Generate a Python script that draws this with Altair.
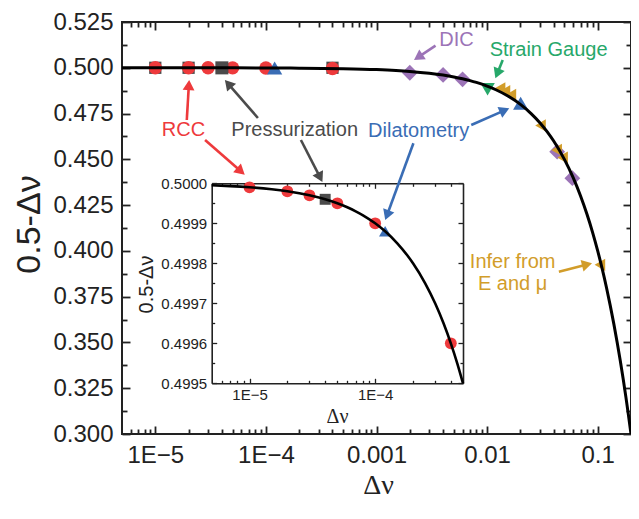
import math
import altair as alt
import pandas as pd

# ---------------- data ----------------
rcc_dv = [1e-5, 2e-5, 3e-5, 5e-5, 1e-4, 4e-4]
rcc_y = [0.49999, 0.49998, 0.49997, 0.49995, 0.4999, 0.4996]
rcc_sq_dv = [1e-5, 2e-5, 4e-4]
rcc_sq_y = [0.5, 0.5, 0.5]
press_dv = [4e-5]
press_y = [0.49996]
dila_dv = [1.2e-4, 0.0201]
dila_y = [0.49988, 0.4806]
dic_dv = [0.002, 0.004, 0.006, 0.043, 0.059]
dic_y = [0.4973, 0.4961, 0.4937, 0.4542, 0.4397]
sg_dv = [0.0101]
sg_y = [0.4883]
inf_dv = [0.0131, 0.0145, 0.0164, 0.0304, 0.0425, 0.0481, 0.1047]
inf_y = [0.4888, 0.4872, 0.4852, 0.4685, 0.4551, 0.4510, 0.3924]

# model curve 0.5 - dv, sampled at these dv values
curve_dv = [5e-6, 1e-5, 2e-5, 5e-5, 1e-4, 2e-4, 5e-4, 1e-3, 1.5e-3, 2e-3, 3e-3,
            4e-3, 5e-3, 6e-3, 7e-3, 8e-3, 1e-2, 1.2e-2, 1.5e-2, 2e-2, 2.5e-2,
            3e-2, 3.5e-2, 4e-2, 5e-2, 6e-2, 7e-2, 8e-2, 9e-2, 0.1, 0.11, 0.12,
            0.13, 0.14, 0.15, 0.16, 0.17, 0.18, 0.19, 0.2]
inset_curve_dv = [5e-6, 7e-6, 1e-5, 1.5e-5, 2e-5, 3e-5, 4e-5, 5e-5, 6e-5, 7e-5,
                  8e-5, 1e-4, 1.2e-4, 1.5e-4, 1.8e-4, 2e-4, 2.5e-4, 3e-4,
                  3.5e-4, 4e-4, 4.5e-4, 5e-4]

# axes
x_major = [1e-5, 1e-4, 1e-3, 1e-2, 1e-1]
x_major_labels = ["1E\u22125", "1E\u22124", "0.001", "0.01", "0.1"]
y_major = [0.300, 0.325, 0.350, 0.375, 0.400, 0.425, 0.450, 0.475, 0.500, 0.525]
ix_major = [1e-5, 1e-4]
ix_major_labels = ["1E\u22125", "1E\u22124"]
iy_major = [0.4995, 0.4996, 0.4997, 0.4998, 0.4999, 0.5000]

X_DOM = [5e-6, 0.2]
Y_DOM = [0.3, 0.525]
IX_DOM = [5e-6, 5e-4]
IY_DOM = [0.4995, 0.5]

# annotations (data coordinates of main plot)
RED, GRAY, BLUE, PURPLE, GREEN, GOLD = "#EE3A3C", "#4B4B4B", "#3A6DB5", "#9C74B7", "#27A86A", "#D29D2A"
ann_text = ["RCC", "Pressurization", "DIC", "Strain Gauge", "Dilatometry", "Infer from", "E and \u03bc"]
ann_dv = [1.80e-5, 1.82e-4, 5.28e-3, 0.0360, 2.405e-3, 0.01701, 0.01701]
ann_y = [0.4660, 0.4660, 0.5152, 0.5097, 0.4655, 0.3939, 0.3819]
ann_color = [RED, GRAY, PURPLE, GREEN, BLUE, GOLD, GOLD]

arr_dv0 = [1.926e-5, 2.818e-5, 8.47e-5, 2.073e-4, 3.418e-3, 0.01384, 7.19e-3, 2.156e-3, 0.04457]
arr_y0 = [0.47148, 0.46056, 0.47257, 0.46056, 0.51206, 0.50425, 0.46875, 0.45876, 0.38864]
arr_dv1 = [2.024e-5, 6.437e-5, 4.258e-5, 3.244e-4, 2.183e-3, 0.01188, 0.01586, 1.1995e-3, 0.08885]
arr_y1 = [0.49333, 0.44164, 0.49333, 0.43762, 0.50425, 0.49425, 0.47787, 0.41687, 0.39322]
arr_color = [RED, RED, GRAY, GRAY, PURPLE, GREEN, BLUE, BLUE, GOLD]

# ---------------- layout ----------------
W, H = 509, 412
IX_RANGE = [89.7, 341.0]
IY_RANGE = [361.3, 161.3]
HEAD_SIZE = 140

# ---------------- helpers ----------------
def minor_log(lo, hi):
    out = []
    for e in range(-7, 1):
        for m in range(2, 10):
            v = m * 10 ** e
            if lo * 1.0001 < v < hi * 0.9999:
                out.append(v)
    return out


def minor_lin(majors):
    return [round((a + b) / 2, 6) for a, b in zip(majors[:-1], majors[1:])]


def label_expr(vals, labs):
    parts = [f"abs(log(datum.value)/LN10 - ({round(math.log10(v))})) < 0.01 ? '{l}'"
             for v, l in zip(vals, labs)]
    return " : ".join(parts) + " : ''"


mx = alt.Scale(type="log", domain=X_DOM, nice=False)
my = alt.Scale(domain=Y_DOM, nice=False, zero=False)
ix = alt.Scale(type="log", domain=IX_DOM, nice=False, range=IX_RANGE)
iy = alt.Scale(domain=IY_DOM, nice=False, zero=False, range=IY_RANGE)

curve_df = pd.DataFrame({"dv": curve_dv})
curve_df["y"] = 0.5 - curve_df["dv"]
icurve_df = pd.DataFrame({"dv": inset_curve_dv})
icurve_df["y"] = 0.5 - icurve_df["dv"]

TICKC = "#222222"


def holder(df, xs, ys, xaxis, yaxis):
    return alt.Chart(df).mark_point(opacity=0).encode(
        x=alt.X("dv:Q", scale=xs, axis=xaxis),
        y=alt.Y("y:Q", scale=ys, axis=yaxis),
    )


def pts(dv, y, shape, color, size, xs, ys, maxdv=None):
    df = pd.DataFrame({"dv": dv, "y": y})
    if maxdv is not None:
        df = df[df["dv"] <= maxdv]
    return alt.Chart(df).mark_point(shape=shape, filled=True, size=size, color=color,
                                    opacity=1, strokeWidth=0).encode(
        x=alt.X("dv:Q", scale=xs, axis=None),
        y=alt.Y("y:Q", scale=ys, axis=None),
    )


# ---------------- main axes ----------------
common = dict(domain=False, grid=False, tickColor=TICKC, tickWidth=1.8)
xb_major = alt.Axis(orient="bottom", offset=-8, tickSize=8, values=x_major,
                    labelExpr=label_expr(x_major, x_major_labels), labelFontSize=24,
                    labelPadding=9, labelFlush=False, labelOverlap=False,
                    labelFont="Liberation Sans", labelColor=TICKC,
                    title="\u0394\u03bd", titleFont="Liberation Serif", titleFontSize=28,
                    titleFontWeight="normal", titleColor=TICKC, titleX=256, titleY=67,
                    titleAlign="center", titleBaseline="alphabetic", **common)
yl_major = alt.Axis(orient="left", offset=-8, tickSize=8, values=y_major, format=".3f",
                    labelFontSize=24, labelPadding=9, labelOverlap=False,
                    labelFont="Liberation Sans", labelColor=TICKC,
                    title="0.5-\u0394\u03bd", titleFont="Liberation Sans", titleFontSize=34,
                    titleFontWeight="normal", titleColor=TICKC, titleAngle=270,
                    titleX=-101, titleY=202, titleAlign="center", titleBaseline="middle",
                    **common)
xb_minor = alt.Axis(orient="bottom", offset=-5, tickSize=5, values=minor_log(*X_DOM),
                    labels=False, title=None, **common)
yl_minor = alt.Axis(orient="left", offset=-5, tickSize=5, values=minor_lin(y_major),
                    labels=False, title=None, **common)
xt_major = alt.Axis(orient="top", offset=-8, tickSize=8, values=x_major, labels=False,
                    title=None, **common)
yr_major = alt.Axis(orient="right", offset=-8, tickSize=8, values=y_major, labels=False,
                    title=None, **common)
xt_minor = alt.Axis(orient="top", offset=-5, tickSize=5, values=minor_log(*X_DOM),
                    labels=False, title=None, **common)
yr_minor = alt.Axis(orient="right", offset=-5, tickSize=5, values=minor_lin(y_major),
                    labels=False, title=None, **common)

main_curve = alt.Chart(curve_df).mark_line(color="black", strokeWidth=3,
                                           interpolate="monotone").encode(
    x=alt.X("dv:Q", scale=mx, axis=None), y=alt.Y("y:Q", scale=my, axis=None))

main_group = alt.layer(
    holder(curve_df, mx, my, xb_major, yl_major),
    holder(curve_df, mx, my, xb_minor, yl_minor),
    holder(curve_df, mx, my, xt_major, yr_major),
    holder(curve_df, mx, my, xt_minor, yr_minor),
    pts(rcc_sq_dv, rcc_sq_y, "square", GRAY, 150, mx, my),
    pts(rcc_dv, rcc_y, "circle", RED, 180, mx, my),
    pts(press_dv, press_y, "square", GRAY, 170, mx, my),
    pts(dic_dv, dic_y, "diamond", PURPLE, 250, mx, my),
    pts(sg_dv, sg_y, "triangle-down", GREEN, 210, mx, my),
    pts(inf_dv, inf_y, "triangle-left", GOLD, 150, mx, my),
    pts(dila_dv, dila_y, "triangle-up", BLUE, 230, mx, my),
    main_curve,
).resolve_axis(x="independent", y="independent")

# ---------------- inset ----------------
icommon = dict(domain=False, grid=False, tickColor=TICKC, tickWidth=1.3)
ixb_major = alt.Axis(orient="bottom", offset=-55.7, tickSize=5, values=ix_major,
                     labelExpr=label_expr(ix_major, ix_major_labels), labelFontSize=15,
                     labelPadding=4, labelFlush=False, labelOverlap=False,
                     labelFont="Liberation Sans", labelColor=TICKC,
                     title="\u0394\u03bd", titleFont="Liberation Serif", titleFontSize=20,
                     titleFontWeight="normal", titleColor=TICKC, titleX=215, titleY=44,
                     titleAlign="center", titleBaseline="alphabetic", **icommon)
iyl_major = alt.Axis(orient="left", offset=-94.7, tickSize=5, values=iy_major, format=".4f",
                     labelFontSize=15, labelPadding=5, labelOverlap=False,
                     labelFont="Liberation Sans", labelColor=TICKC,
                     title="0.5-\u0394\u03bd", titleFont="Liberation Sans", titleFontSize=20,
                     titleFontWeight="normal", titleColor=TICKC, titleAngle=270,
                     titleX=-70.7, titleY=262, titleAlign="center", titleBaseline="middle",
                     **icommon)
ixb_minor = alt.Axis(orient="bottom", offset=-53.7, tickSize=3, values=minor_log(*IX_DOM),
                     labels=False, title=None, **icommon)
iyl_minor = alt.Axis(orient="left", offset=-92.7, tickSize=3, values=minor_lin(iy_major),
                     labels=False, title=None, **icommon)
ixt_major = alt.Axis(orient="top", offset=-166.3, tickSize=5, values=ix_major, labels=False,
                     title=None, **icommon)
iyr_major = alt.Axis(orient="right", offset=-173, tickSize=5, values=iy_major, labels=False,
                     title=None, **icommon)
ixt_minor = alt.Axis(orient="top", offset=-164.3, tickSize=3, values=minor_log(*IX_DOM),
                     labels=False, title=None, **icommon)
iyr_minor = alt.Axis(orient="right", offset=-171, tickSize=3, values=minor_lin(iy_major),
                     labels=False, title=None, **icommon)

# frame of the inset: domain-only axes on its four edges
dcommon = dict(domain=True, domainColor=TICKC, domainWidth=1.6, ticks=False, labels=False,
               grid=False, title=None)
ixb_dom = alt.Axis(orient="bottom", offset=-(H - IY_RANGE[0]), **dcommon)
ixt_dom = alt.Axis(orient="top", offset=-IY_RANGE[1], **dcommon)
iyl_dom = alt.Axis(orient="left", offset=-IX_RANGE[0], **dcommon)
iyr_dom = alt.Axis(orient="right", offset=IX_RANGE[1] - W, **dcommon)

inset_curve = alt.Chart(icurve_df).mark_line(color="black", strokeWidth=2.6,
                                             interpolate="monotone").encode(
    x=alt.X("dv:Q", scale=ix, axis=None), y=alt.Y("y:Q", scale=iy, axis=None))

imax = IX_DOM[1]
inset_group = alt.layer(
    holder(icurve_df, ix, iy, ixb_dom, iyl_dom),
    holder(icurve_df, ix, iy, ixt_dom, iyr_dom),
    holder(icurve_df, ix, iy, ixb_major, iyl_major),
    holder(icurve_df, ix, iy, ixb_minor, iyl_minor),
    holder(icurve_df, ix, iy, ixt_major, iyr_major),
    holder(icurve_df, ix, iy, ixt_minor, iyr_minor),
    pts(rcc_dv, rcc_y, "circle", RED, 140, ix, iy, imax),
    pts(press_dv, press_y, "square", GRAY, 120, ix, iy, imax),
    pts(dila_dv, dila_y, "triangle-up", BLUE, 150, ix, iy, imax),
    inset_curve,
).resolve_axis(x="independent", y="independent")

# ---------------- annotations ----------------
LX0, LX1 = math.log10(X_DOM[0]), math.log10(X_DOM[1])


def to_px(dv, y):
    return (W * (math.log10(dv) - LX0) / (LX1 - LX0),
            H * (Y_DOM[1] - y) / (Y_DOM[1] - Y_DOM[0]))


def to_data(px, py):
    return (10 ** (LX0 + px / W * (LX1 - LX0)),
            Y_DOM[1] - py / H * (Y_DOM[1] - Y_DOM[0]))


h = math.sqrt(3) / 2 * math.sqrt(HEAD_SIZE) / 2
rows = []
for a, b, c, d, col in zip(arr_dv0, arr_y0, arr_dv1, arr_y1, arr_color):
    x0, y0 = to_px(a, b)
    x1, y1 = to_px(c, d)
    L = math.hypot(x1 - x0, y1 - y0)
    ux, uy = (x1 - x0) / L, (y1 - y0) / L
    cdv, cy = to_data(x1 - h * ux, y1 - h * uy)
    ang = math.degrees(math.atan2(ux, -uy)) % 360
    rows.append({"dv0": a, "y0": b, "dvc": cdv, "yc": cy, "ang": ang, "c": col})
arr_df = pd.DataFrame(rows)

shafts = alt.Chart(arr_df).mark_rule(strokeWidth=2.6).encode(
    x=alt.X("dv0:Q", scale=mx, axis=None), x2="dvc:Q",
    y=alt.Y("y0:Q", scale=my, axis=None), y2="yc:Q",
    color=alt.Color("c:N", scale=None))
heads = alt.Chart(arr_df).mark_point(shape="triangle-up", filled=True, size=HEAD_SIZE,
                                     opacity=1, strokeWidth=0).encode(
    x=alt.X("dvc:Q", scale=mx, axis=None),
    y=alt.Y("yc:Q", scale=my, axis=None),
    angle=alt.Angle("ang:Q", scale=None),
    color=alt.Color("c:N", scale=None))

text_df = pd.DataFrame({"t": ann_text, "dv": ann_dv, "y": ann_y, "c": ann_color})
texts = alt.Chart(text_df).mark_text(font="Liberation Sans", fontSize=20, align="center",
                                     baseline="middle").encode(
    x=alt.X("dv:Q", scale=mx, axis=None),
    y=alt.Y("y:Q", scale=my, axis=None),
    text="t:N",
    color=alt.Color("c:N", scale=None))

ann_group = alt.layer(shafts, heads, texts)

chart = alt.layer(main_group, inset_group, ann_group).resolve_scale(
    x="independent", y="independent"
).properties(
    width=W, height=H,
    autosize=alt.AutoSizeParams(type="none"),
    padding={"left": 114, "top": 14, "right": 0, "bottom": 70},
).configure_view(stroke=TICKC, strokeWidth=2)

chart.save("out.html", embed_options={"renderer": "svg", "actions": False})
